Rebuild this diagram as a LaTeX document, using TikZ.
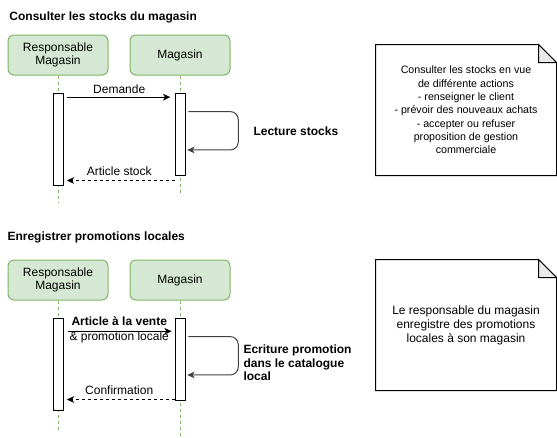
\documentclass[tikz,border=0pt]{standalone}
\usepackage{fontspec}
\setmainfont{Liberation Sans}
\usetikzlibrary{arrows.meta}
\definecolor{boxgreen}{HTML}{D5E8D4}
\definecolor{linegreen}{HTML}{82B366}
\definecolor{foldgray}{HTML}{EBEBEB}
\tikzstyle{sectionTitle} = [
 anchor = west,
 inner sep = 0pt,
 font = \fontsize{9}{10.5}\selectfont\bfseries
]
\tikzstyle{lifeBox} = [
 rectangle,
 draw=linegreen,
 fill=boxgreen,
 rounded corners = 4.5pt,
 minimum width = 75pt,
 minimum height = 30pt,
 align = center,
 font = \fontsize{9}{10}\selectfont
]
\tikzstyle{activation} = [
 rectangle,
 draw,
 fill=white,
 inner sep = 0pt,
 minimum width = 7.5pt
]
\tikzstyle{lifeLine} = [
 draw=linegreen,
 dash pattern = on 2.25pt off 2.25pt
]
\tikzstyle{message} = [
 draw,
 -{Stealth[length=5.5pt,width=5pt,inset=1.5pt]}
]
\tikzstyle{reply} = [
 message,
 dash pattern = on 2.25pt off 2.25pt
]
\tikzstyle{selfCall} = [
 message,
 draw=black!75,
 rounded corners = 6pt
]
\tikzstyle{msgText} = [
 inner sep = 2pt,
 font = \fontsize{9}{10.5}\selectfont
]
\tikzstyle{noteBox} = [
 rectangle,
 minimum width = 135pt,
 minimum height = 97.5pt,
 align = center
]

\begin{document}
\begin{tikzpicture}[x=0.75pt, y=-0.75pt, line width=0.75pt]
  \useasboundingbox (0,0) rectangle (557,437);

  \node [sectionTitle] (title1) at (9,17) {Consulter les stocks du magasin};
  \node [lifeBox] (resp1) at (58,55) {Responsable\\Magasin};
  \node [lifeBox] (mag1) at (180,55) {Magasin};
  \coordinate (respEnd1) at (58,203);
  \coordinate (magEnd1) at (180,193);
  \draw [lifeLine] (resp1.south) -- (respEnd1);
  \draw [lifeLine] (mag1.south) -- (magEnd1);
  \node [activation, minimum height=69pt] (actResp1) at (58,139) {};
  \node [activation, minimum height=61.5pt] (actMag1) at (180.5,134) {};
  \draw [message, shorten <=2.5pt, shorten >=3.5pt]
    ([yshift=-3.5pt]actResp1.north east) -- ([yshift=-3.5pt]actMag1.north west)
    node [msgText, midway, above] {Demande};
  \draw [selfCall] ([xshift=1.7pt,yshift=-14.3pt]actMag1.north east)
    -- ++(50,0) -- ++(0,38.4) -- ++(-51,0);
  \node [msgText, anchor=west, inner sep=0pt, font=\fontsize{9}{10.5}\selectfont\bfseries]
    (lecture) at (253,131.7) {Lecture stocks};
  \coordinate (retStart1) at ([yshift=-3.75pt]actMag1.south west);
  \draw [reply, shorten >=2.5pt] (retStart1) -- (retStart1 -| actResp1.east)
    node [msgText, midway, above, inner sep=3pt] {Article stock};

  \node [sectionTitle] (title2) at (7,237.7) {Enregistrer promotions locales};
  \node [lifeBox] (resp2) at (58,280) {Responsable\\Magasin};
  \node [lifeBox] (mag2) at (180,280) {Magasin};
  \coordinate (respEnd2) at (58,431);
  \coordinate (magEnd2) at (180,437);
  \draw [lifeLine] (resp2.south) -- (respEnd2);
  \draw [lifeLine] (mag2.south) -- (magEnd2);
  \node [activation, minimum height=69pt] (actResp2) at (58,364) {};
  \node [activation, minimum height=61.5pt] (actMag2) at (180.5,359) {};
  \draw [message, shorten <=3.5pt, shorten >=2.5pt]
    ([yshift=-10.3pt]actResp2.north east) -- ([yshift=-10.3pt]actMag2.north west)
    node [msgText, midway, yshift=0.75pt, align=center, inner sep=0pt,
          font=\fontsize{9}{11.25}\selectfont]
    {\textbf{Article à la vente}\\\& promotion locale};
  \draw [selfCall] ([xshift=1.7pt,yshift=-14.3pt]actMag2.north east)
    -- ++(50,0) -- ++(0,38.4) -- ++(-51,0);
  \node [msgText, anchor=west, align=left, inner sep=0pt,
         font=\fontsize{9}{10.3}\selectfont\bfseries]
    (ecriture) at (243,362.8) {Ecriture promotion\\dans le catalogue\\local};
  \coordinate (retStart2) at ([yshift=0.75pt]actMag2.south west);
  \draw [reply, shorten >=2.5pt] (retStart2) -- (retStart2 -| actResp2.east)
    node [msgText, midway, above, inner sep=3pt] {Confirmation};

  \node [noteBox, font=\fontsize{8}{10}\selectfont] (note1) at (466,110)
    {Consulter les stocks en vue\\de différente actions\\- renseigner le client\\
     - prévoir des nouveaux achats\\- accepter ou refuser\\proposition de gestion\\commerciale};
  \draw (note1.south west) -- (note1.north west) -- ([xshift=-13.5pt]note1.north east)
    -- ([yshift=-13.5pt]note1.north east) -- (note1.south east) -- cycle;
  \filldraw [fill=foldgray] ([xshift=-13.5pt]note1.north east)
    -- ([xshift=-13.5pt,yshift=-13.5pt]note1.north east)
    -- ([yshift=-13.5pt]note1.north east) -- cycle;

  \node [noteBox, font=\fontsize{9}{10.5}\selectfont] (note2) at (466,325)
    {Le responsable du magasin\\enregistre des promotions\\locales à son magasin};
  \draw (note2.south west) -- (note2.north west) -- ([xshift=-13.5pt]note2.north east)
    -- ([yshift=-13.5pt]note2.north east) -- (note2.south east) -- cycle;
  \filldraw [fill=foldgray] ([xshift=-13.5pt]note2.north east)
    -- ([xshift=-13.5pt,yshift=-13.5pt]note2.north east)
    -- ([yshift=-13.5pt]note2.north east) -- cycle;
\end{tikzpicture}
\end{document}
